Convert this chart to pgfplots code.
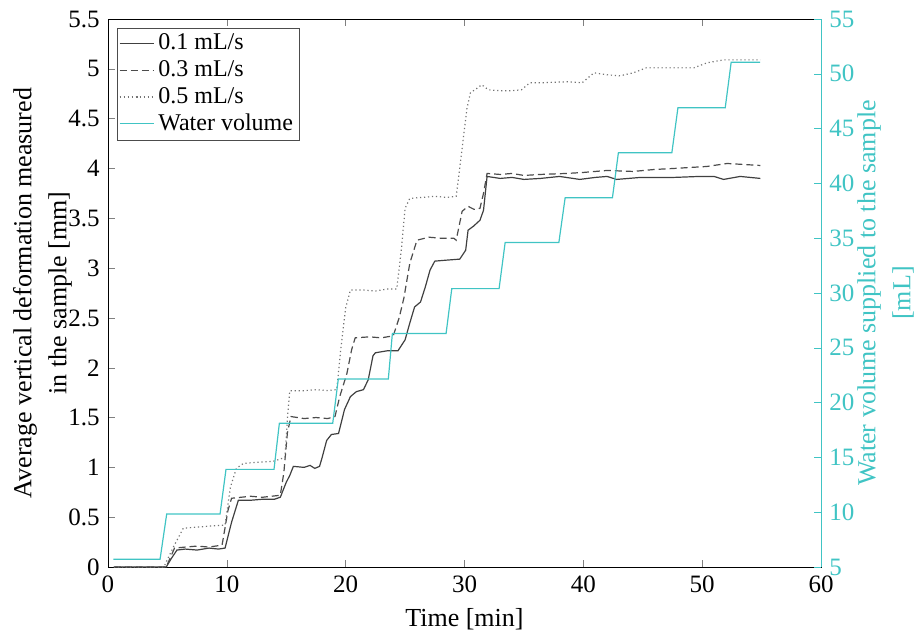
\documentclass[12pt,border=0pt]{standalone}
\usepackage{fontspec}
\setmainfont{Liberation Serif}
\usepackage{pgfplots}
\pgfplotsset{compat=1.18}
\definecolor{wcyan}{RGB}{64,196,196}

\begin{document}
\begin{tikzpicture}
% page frame in the reference's proportions, axis box at (0,0)
\path[use as bounding box] (-54pt,-32.5pt) rectangle (403pt,283.5pt);
\begin{axis}[
    width=356.5pt, height=274pt, scale only axis,
    xmin=0, xmax=60, ymin=0, ymax=5.5,
    xtick={0,10,...,60},
    ytick={0,0.5,...,5.5},
    tick align=inside,
    xtick pos=both, ytick pos=left,
    major tick length=3.5pt,
    /pgf/number format/assume math mode=true,
    tick label style={font=\fontsize{12.5}{15}\selectfont},
    label style={font=\fontsize{13}{17.5}\selectfont},
    xlabel={Time [min]},
    ylabel={Average vertical deformation measured\\in the sample [mm]},
    ylabel style={align=center, at={(axis description cs:-0.0919,0.5)}, anchor=center},
    legend style={at={(axis description cs:0.0126,0.9836)}, anchor=north west,
        draw=black!70, inner sep=1pt, outer sep=0pt, row sep=-0.5pt,
        font=\fontsize{12}{14.5}\selectfont},
    legend cell align=left,
    ]
    % 0.1 mL/s
    \addplot[black!75, line width=0.6pt] coordinates {
        (0.5,0) (4.9,0) (5.3,0.08) (5.8,0.17) (6.5,0.18) (7.5,0.17) (8.5,0.19)
        (9.3,0.18) (9.85,0.19) (10.4,0.45) (10.97,0.67) (12,0.67) (13,0.68)
        (14,0.68) (14.5,0.70) (15.0,0.85) (15.3,0.92) (15.6,1.01) (16.5,1.00)
        (17.0,1.02) (17.4,0.99) (17.8,1.01) (18.0,1.09) (18.4,1.27) (18.8,1.33)
        (19.4,1.34) (19.9,1.58) (20.4,1.71) (20.9,1.76) (21.5,1.78) (21.9,1.88)
        (22.3,2.12) (22.5,2.15) (23.5,2.17) (24.4,2.17) (25.0,2.28) (25.4,2.45)
        (25.8,2.61) (26.3,2.66) (26.7,2.81) (27.1,2.98) (27.5,3.07) (28.5,3.08)
        (29.6,3.09) (30.1,3.18) (30.3,3.38) (30.75,3.42) (31.3,3.48) (31.6,3.58)
        (31.9,3.92) (33,3.90) (34,3.91) (35,3.89) (36.4,3.90) (38,3.92)
        (39.7,3.89) (41,3.91) (42,3.92) (42.8,3.89) (44.8,3.91) (47.6,3.91)
        (49.8,3.92) (51,3.92) (51.8,3.89) (53.2,3.92) (54.9,3.90)
    };
    % 0.3 mL/s
    \addplot[black!70, line width=0.6pt, dash pattern=on 3.5pt off 2pt] coordinates {
        (0.5,0) (4.9,0) (5.6,0.19) (6.5,0.20) (7.5,0.21) (8.5,0.20) (9.6,0.22)
        (10.1,0.57) (10.4,0.69) (12,0.71) (13,0.70) (14.5,0.72) (14.8,0.95)
        (15.1,1.35) (15.4,1.51) (16.5,1.49) (17.5,1.50) (18.5,1.49) (19.1,1.51)
        (19.5,1.71) (20.1,1.94) (20.5,2.18) (20.8,2.30) (22,2.31) (23,2.30)
        (24.0,2.32) (24.5,2.50) (24.9,2.70) (25.4,3.05) (26.0,3.28) (27,3.31)
        (28,3.30) (29.1,3.30) (29.3,3.28) (29.8,3.57) (30.3,3.62) (30.8,3.59)
        (31.3,3.60) (31.6,3.75) (31.9,3.95) (33,3.94) (34,3.95) (35,3.93)
        (36.4,3.94) (38.6,3.95) (40,3.96) (42,3.98) (44.2,3.97) (46,3.99)
        (47.6,4.00) (50.4,4.02) (52.1,4.05) (54.9,4.03)
    };
    % 0.5 mL/s
    \addplot[black!55, line width=0.6pt, dash pattern=on 0.6pt off 1.4pt] coordinates {
        (0.5,0) (4.7,0) (5.5,0.20) (6.34,0.39) (7.5,0.40) (8.5,0.41) (9.85,0.42)
        (10.3,0.80) (10.8,0.99) (11.4,1.04) (12.5,1.05) (13.9,1.06) (14.9,1.10)
        (15.1,1.50) (15.3,1.77) (16.5,1.77) (17.5,1.78) (18.5,1.77) (19.25,1.78)
        (19.6,2.20) (20.0,2.60) (20.4,2.78) (21.5,2.78) (22.5,2.77) (23.5,2.79)
        (24.3,2.79) (24.7,3.20) (25.0,3.60) (25.4,3.70) (26.5,3.71) (27.5,3.72)
        (28.5,3.71) (29.3,3.72) (29.8,4.20) (30.2,4.60) (30.5,4.76) (31.0,4.80)
        (31.45,4.84) (32.0,4.79) (33,4.78) (34,4.78) (34.8,4.79) (35.5,4.86)
        (36.4,4.86) (38.6,4.87) (39.9,4.86) (40.9,4.96) (42.0,4.94) (43.1,4.93)
        (44.2,4.96) (45.3,5.01) (47.0,5.01) (49.3,5.01) (50.4,5.06) (51.8,5.09)
        (54.9,5.09)
    };
    \addlegendentry{0.1 mL/s}
    \addlegendentry{0.3 mL/s}
    \addlegendentry{0.5 mL/s}
    \addlegendimage{wcyan, line width=0.6pt}
    \addlegendentry{Water volume}
\end{axis}
\begin{axis}[
    width=356.5pt, height=274pt, scale only axis,
    xmin=0, xmax=60, ymin=5, ymax=55,
    axis x line=none,
    axis y line*=right,
    ytick={5,10,...,55},
    tick align=inside,
    major tick length=3.5pt,
    /pgf/number format/assume math mode=true,
    tick label style={font=\fontsize{12.5}{15}\selectfont},
    label style={font=\fontsize{13}{17.5}\selectfont},
    y axis line style={draw=wcyan},
    ytick style={draw=wcyan},
    yticklabel style={text=wcyan},
    ylabel={Water volume supplied to the sample\\{}[mL]},
    ylabel style={align=center, text=wcyan,
        at={(axis description cs:1.0905,0.5)}, anchor=center},
    ]
    \addplot[wcyan, line width=0.6pt] coordinates {
        (0.45,5.7) (4.38,5.7) (4.94,9.84) (9.43,9.84) (9.93,13.91) (13.97,13.91)
        (14.42,18.11) (18.91,18.11) (19.38,22.15) (23.59,22.15) (23.93,26.3)
        (28.45,26.3) (28.93,30.4) (32.91,30.4) (33.42,34.6) (37.94,34.6)
        (38.47,38.7) (42.45,38.7) (42.95,42.8) (47.45,42.8) (47.96,46.9)
        (51.94,46.9) (52.44,51.05) (54.88,51.05)
    };
\end{axis}
\end{tikzpicture}
\end{document}
